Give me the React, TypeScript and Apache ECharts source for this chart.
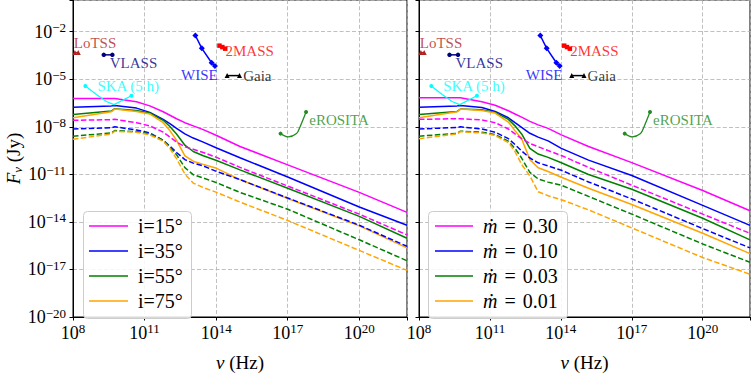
import React, { useEffect, useRef } from 'react';
import * as echarts from 'echarts';

const SERIF = 'Liberation Serif';
const X0 = 8; // log10(nu) at the x-axis minimum
const Y0 = -20; // log10(F) at the y-axis minimum

// ---- model curves, left panel (inclination), log10 values ----
const LOG_NU_L = [8, 9.61, 9.75, 10.66, 11.22, 11.78, 12.06, 12.34, 12.69, 13.04, 13.46, 14.02, 15, 17, 20, 22];
const I15_SOLID = [-6.22, -6.22, -6.22, -6.42, -6.68, -7.05, -7.27, -7.49, -7.74, -7.94, -8.18, -8.55, -9.24, -10.40, -12.14, -13.40];
const I35_SOLID = [-6.76, -6.68, -6.66, -6.82, -7.09, -7.53, -7.80, -8.10, -8.45, -8.71, -8.97, -9.34, -9.95, -11.17, -13.06, -14.21];
const I55_SOLID = [-7.23, -7.01, -6.86, -6.97, -7.13, -7.59, -7.98, -8.45, -9.16, -9.56, -9.83, -10.13, -10.72, -11.88, -13.65, -15.03];
const I75_SOLID = [-7.43, -7.05, -6.88, -7.03, -7.19, -7.74, -8.24, -8.85, -9.83, -10.17, -10.37, -10.62, -11.33, -12.52, -14.25, -15.64];
const I15_DASH = [-7.59, -7.55, -7.53, -7.74, -7.94, -8.34, -8.65, -8.95, -9.26, -9.42, -9.62, -9.93, -10.56, -11.74, -13.51, -14.82];
const I35_DASH = [-8.14, -8.06, -8.00, -8.20, -8.39, -8.85, -9.22, -9.62, -10.07, -10.29, -10.47, -10.82, -11.33, -12.49, -14.21, -15.54];
const I55_DASH = [-8.59, -8.39, -8.24, -8.30, -8.45, -8.85, -9.26, -9.76, -10.58, -11.02, -11.23, -11.53, -12.14, -13.20, -15.13, -16.45];
const I75_DASH = [-8.79, -8.45, -8.28, -8.34, -8.51, -8.91, -9.36, -10.01, -10.98, -11.55, -11.83, -12.14, -12.75, -13.91, -15.80, -17.06];

// ---- model curves, right panel (accretion rate), log10 values ----
const LOG_NU_R = [8, 9.61, 9.75, 10.66, 11.22, 11.78, 12.06, 12.34, 12.69, 13.04, 13.46, 14.02, 15.17, 17, 20, 22];
const M30_SOLID = [-6.17, -6.17, -6.17, -6.42, -6.64, -6.99, -7.19, -7.39, -7.66, -7.88, -8.10, -8.51, -9.24, -10.26, -12.02, -13.30];
const M10_SOLID = [-6.76, -6.68, -6.66, -6.78, -7.03, -7.43, -7.74, -8.04, -8.41, -8.65, -8.89, -9.36, -10.10, -11.07, -12.96, -14.22];
const M03_SOLID = [-7.23, -7.03, -6.88, -6.92, -7.09, -7.53, -7.94, -8.45, -9.36, -9.72, -9.93, -10.27, -11.01, -11.94, -13.77, -15.13];
const M01_SOLID = [-7.43, -7.05, -6.88, -6.97, -7.13, -7.70, -8.24, -8.75, -10.07, -10.58, -10.82, -11.18, -11.88, -12.90, -14.72, -16.00];
const M30_DASH = [-7.53, -7.49, -7.49, -7.57, -7.74, -8.14, -8.45, -8.75, -9.05, -9.26, -9.50, -9.81, -10.56, -11.68, -13.51, -14.72];
const M10_DASH = [-8.14, -8.04, -8.00, -8.14, -8.34, -8.75, -9.12, -9.52, -9.97, -10.27, -10.47, -10.74, -11.48, -12.55, -14.42, -15.64];
const M03_DASH = [-8.59, -8.41, -8.28, -8.34, -8.49, -8.91, -9.36, -9.97, -10.88, -11.29, -11.49, -11.69, -12.39, -13.51, -15.39, -16.55];
const M01_DASH = [-8.75, -8.45, -8.30, -8.39, -8.55, -8.99, -9.56, -10.37, -11.10, -12.10, -12.35, -12.60, -13.24, -14.38, -16.25, -17.30];

// ---- survey sensitivities, log10 values ----
const LOTSS_NU = [8.08, 8.22];
const LOTSS_F = [-3.31, -3.31];
const VLASS_NU = [9.29, 9.65];
const VLASS_F = [-3.46, -3.46];
const WISE_NU = [13.13, 13.40, 13.81, 13.95];
const WISE_F = [-2.24, -3.05, -3.96, -4.17];
const MASS2_NU = [14.14, 14.26, 14.38];
const MASS2_F = [-2.88, -2.97, -3.07];
const GAIA_NU = [14.46, 14.98];
const GAIA_F = [-4.77, -4.77];
const SKA_NU = [8.52, 8.98, 9.40, 9.72, 10.45];
const SKA_F = [-5.43, -5.96, -6.40, -6.60, -6.04];
const EROSITA_NU = [16.70, 17.02, 17.37, 17.51, 17.77];
const EROSITA_F = [-8.43, -8.64, -8.43, -8.03, -7.07];

// annotation anchors (log10 nu, log10 F)
const ANNOT_TEXT = ['LoTSS', 'VLASS', 'WISE', '2MASS', 'Gaia', 'SKA (5 h)', 'eROSITA'];
const ANNOT_NU = [8.03, 9.54, 14.07, 14.39, 15.13, 9.02, 17.90];
const ANNOT_F = [-2.69, -3.96, -4.71, -3.22, -4.77, -5.44, -7.56];

const COLORS = ['#ff00ff', '#0000ff', '#008000', '#ffa500'];
const INCL_LABELS = ['i=15°', 'i=35°', 'i=55°', 'i=75°'];
const MDOT_LABELS = ['0.30', '0.10', '0.03', '0.01'];
const C_LOTSS = '#b22222';
const C_VLASS = '#000080';
const C_WISE = '#0000ff';
const C_2MASS = '#ff0000';
const C_GAIA = '#000000';
const C_SKA = '#00ffff';
const C_EROSITA = '#228b22';
const ANNOT_COLORS = [C_LOTSS, C_VLASS, C_WISE, C_2MASS, C_GAIA, C_SKA, C_EROSITA];

const pt = (nu: number, f: number) => [nu - X0, f - Y0];
const supTxt = (n: number) => (n < 0 ? '\u2212' + Math.abs(n) : String(n));

const xFmt = (v: number) => {
  const e = Math.round(v + X0);
  if (Math.abs(v - Math.round(v)) > 1e-6) return '';
  return (e - 8) % 3 === 0 && e < 22 ? `{b|10}{s|${supTxt(e)}}` : '';
};
const yFmt = (v: number) => {
  const e = Math.round(v + Y0);
  return e < 0 ? `{b|10}{s|${supTxt(e)}}` : '';
};

const tickRich = {
  b: { fontSize: 18, fontFamily: SERIF, color: '#000' },
  s: { fontSize: 13, fontFamily: SERIF, color: '#000', padding: [0, 0, 8, 0] },
};

const splitLine = { show: true, lineStyle: { color: '#b0b0b0', width: 0.8, type: [4, 2.2] } };

const makeX = (gi: number) => ({
  type: 'value',
  gridIndex: gi,
  min: 0,
  max: 14,
  interval: 3,
  axisLine: { show: true, onZero: false, lineStyle: { color: '#000', width: 1 } },
  axisTick: { show: true, inside: false, length: 3.5, lineStyle: { color: '#000', width: 1 } },
  axisLabel: { show: true, formatter: xFmt, rich: tickRich, margin: 5, color: '#000', fontFamily: SERIF },
  splitLine,
  name: '{i|ν} (Hz)',
  nameLocation: 'middle',
  nameGap: 36,
  nameTextStyle: {
    fontSize: 19,
    fontFamily: SERIF,
    color: '#000',
    rich: { i: { fontSize: 19, fontStyle: 'italic', fontFamily: SERIF, color: '#000' } },
  },
});

const makeY = (gi: number) => ({
  type: 'value',
  gridIndex: gi,
  min: 0,
  max: 20,
  interval: 3,
  axisLine: { show: true, onZero: false, lineStyle: { color: '#000', width: 1 } },
  axisTick: { show: true, inside: false, length: 3.5, lineStyle: { color: '#000', width: 1 } },
  axisLabel: { show: gi === 0, formatter: yFmt, rich: tickRich, margin: 7, color: '#000', fontFamily: SERIF },
  splitLine,
  name: gi === 0 ? '{i|F}{sub|ν} (Jy)' : '',
  nameLocation: 'middle',
  nameRotate: 90,
  nameGap: 39,
  nameTextStyle: {
    fontSize: 19,
    fontFamily: SERIF,
    color: '#000',
    rich: {
      i: { fontSize: 19, fontStyle: 'italic', fontFamily: SERIF, color: '#000' },
      sub: { fontSize: 13, fontStyle: 'italic', fontFamily: SERIF, color: '#000', padding: [7, 0, 0, 0] },
    },
  },
});

const modelLine = (gi: number, name: string, nus: number[], fs: number[], color: string, dashed: boolean) => ({
  type: 'line',
  name,
  xAxisIndex: gi,
  yAxisIndex: gi,
  data: nus.map((n, k) => pt(n, fs[k])),
  symbol: 'none',
  showSymbol: false,
  silent: true,
  z: 3,
  lineStyle: { color, width: 1.5, type: dashed ? [5.5, 2.4] : 'solid' },
  itemStyle: { color },
});

const obsLine = (
  gi: number,
  name: string,
  nus: number[],
  fs: number[],
  color: string,
  symbol: string,
  size: number,
  width: number,
  endsOnly: boolean,
  smooth: number | boolean = false
) => ({
  type: 'line',
  name,
  xAxisIndex: gi,
  yAxisIndex: gi,
  data: nus.map((n, k) =>
    endsOnly && k > 0 && k < nus.length - 1 ? { value: pt(n, fs[k]), symbol: 'none' } : { value: pt(n, fs[k]) }
  ),
  symbol,
  symbolSize: size,
  showSymbol: true,
  showAllSymbol: true,
  smooth,
  silent: true,
  z: 4,
  lineStyle: { color, width },
  itemStyle: { color },
});

const annotations = (gi: number) => ({
  type: 'scatter',
  xAxisIndex: gi,
  yAxisIndex: gi,
  symbolSize: 0.1,
  silent: true,
  z: 5,
  itemStyle: { color: 'rgba(0,0,0,0)' },
  data: ANNOT_TEXT.map((t, k) => ({
    value: pt(ANNOT_NU[k], ANNOT_F[k]),
    label: {
      show: true,
      formatter: t,
      position: t === 'WISE' ? 'left' : 'right',
      distance: 0,
      color: ANNOT_COLORS[k],
      fontSize: 15,
      fontFamily: SERIF,
    },
  })),
});

const panelSeries = (gi: number) => {
  const solids = gi === 0 ? [I15_SOLID, I35_SOLID, I55_SOLID, I75_SOLID] : [M30_SOLID, M10_SOLID, M03_SOLID, M01_SOLID];
  const dashes = gi === 0 ? [I15_DASH, I35_DASH, I55_DASH, I75_DASH] : [M30_DASH, M10_DASH, M03_DASH, M01_DASH];
  const nus = gi === 0 ? LOG_NU_L : LOG_NU_R;
  const out: any[] = [];
  solids.forEach((s, k) => out.push(modelLine(gi, `p${gi}s${k}`, nus, s, COLORS[k], false)));
  dashes.forEach((s, k) => out.push(modelLine(gi, `p${gi}d${k}`, nus, s, COLORS[k], true)));
  out.push(obsLine(gi, `p${gi}lotss`, LOTSS_NU, LOTSS_F, C_LOTSS, 'triangle', 5, 1.2, false));
  out.push(obsLine(gi, `p${gi}vlass`, VLASS_NU, VLASS_F, C_VLASS, 'circle', 4.5, 1.5, false));
  out.push(obsLine(gi, `p${gi}wise`, WISE_NU, WISE_F, C_WISE, 'diamond', 6, 1.5, false));
  out.push(obsLine(gi, `p${gi}2mass`, MASS2_NU, MASS2_F, C_2MASS, 'rect', 4.5, 1.5, false));
  out.push(obsLine(gi, `p${gi}gaia`, GAIA_NU, GAIA_F, C_GAIA, 'triangle', 5, 1.5, false));
  out.push(obsLine(gi, `p${gi}ska`, SKA_NU, SKA_F, C_SKA, 'circle', 4, 1.2, true));
  out.push(obsLine(gi, `p${gi}erosita`, EROSITA_NU, EROSITA_F, C_EROSITA, 'circle', 4, 1.3, true, 0.3));
  out.push(annotations(gi));
  return out;
};

const ROWS = [226, 251, 276, 301];

const legendGraphic = () => {
  const els: any[] = [];
  els.push({
    type: 'rect',
    z: 50,
    shape: { x: 83.5, y: 211.5, width: 108, height: 107, r: 4 },
    style: { fill: 'rgba(255,255,255,0.85)', stroke: '#cccccc', lineWidth: 1 },
  });
  INCL_LABELS.forEach((t, k) => {
    els.push({ type: 'line', z: 51, shape: { x1: 89, y1: ROWS[k], x2: 128, y2: ROWS[k] }, style: { stroke: COLORS[k], lineWidth: 1.5 } });
    els.push({
      type: 'text',
      z: 51,
      x: 138,
      y: ROWS[k],
      style: { text: t, fill: '#000', fontSize: 20, fontFamily: SERIF, verticalAlign: 'middle', align: 'left' },
    });
  });
  els.push({
    type: 'rect',
    z: 50,
    shape: { x: 428.5, y: 211.5, width: 139, height: 107, r: 4 },
    style: { fill: 'rgba(255,255,255,0.85)', stroke: '#cccccc', lineWidth: 1 },
  });
  MDOT_LABELS.forEach((t, k) => {
    els.push({ type: 'line', z: 51, shape: { x1: 435, y1: ROWS[k], x2: 473, y2: ROWS[k] }, style: { stroke: COLORS[k], lineWidth: 1.5 } });
    els.push({
      type: 'text',
      z: 51,
      x: 483,
      y: ROWS[k],
      style: {
        text: `{i|ṁ}{eq|=}${t}`,
        fill: '#000',
        fontSize: 20,
        fontFamily: SERIF,
        verticalAlign: 'middle',
        align: 'left',
        rich: {
          i: { fontSize: 20, fontStyle: 'italic', fontFamily: SERIF, fill: '#000' },
          eq: { fontSize: 20, fontFamily: SERIF, fill: '#000', padding: [0, 7, 0, 7] },
        },
      },
    });
  });
  return els;
};

const option: any = {
  animation: false,
  backgroundColor: '#ffffff',
  textStyle: { fontFamily: SERIF },
  grid: [
    { left: 73, top: 0, width: 334, height: 328, show: true, borderColor: '#000', borderWidth: 1, backgroundColor: 'transparent' },
    { left: 419, top: 0, width: 334, height: 328, show: true, borderColor: '#000', borderWidth: 1, backgroundColor: 'transparent' },
  ],
  xAxis: [makeX(0), makeX(1)],
  yAxis: [makeY(0), makeY(1)],
  series: [...panelSeries(0), ...panelSeries(1)],
  graphic: legendGraphic(),
};

export default function App() {
  const ref = useRef<HTMLDivElement>(null);
  useEffect(() => {
    if (!ref.current) return;
    const chart = echarts.init(ref.current, undefined, { renderer: 'svg' });
    chart.setOption(option);
    return () => chart.dispose();
  }, []);
  return (
    <div
      ref={ref}
      style={{ position: 'absolute', left: 0, top: 0, width: 753, height: 377, background: '#fff' }}
    />
  );
}
